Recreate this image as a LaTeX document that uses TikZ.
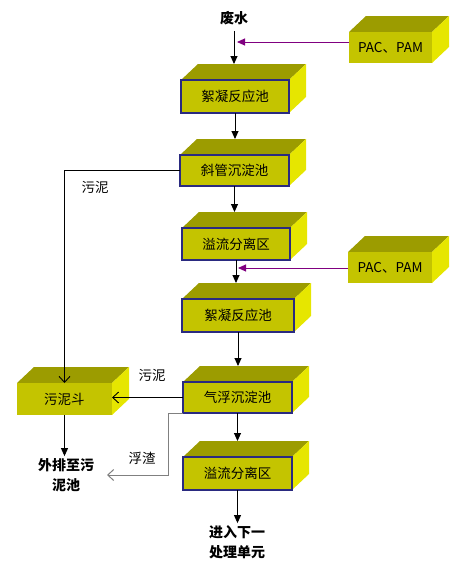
\documentclass[tikz,border=0pt]{standalone}
\usepackage{fontspec}
\setmainfont{Noto Sans CJK SC}
\usetikzlibrary{calc,arrows.meta,backgrounds}
\definecolor{frontc}{HTML}{C4C400}
\definecolor{topc}{HTML}{9C9C00}
\definecolor{sidec}{HTML}{E6E600}
\definecolor{bordc}{HTML}{2A2A80}
\definecolor{purp}{HTML}{800080}
\definecolor{grayl}{HTML}{808080}
\tikzset{
  front/.style={fill=frontc,inner sep=0pt,outer sep=0pt,font=\fontsize{13.5}{15}\selectfont},
  bordered/.style={draw=bordc,line width=1.4pt},
  topface/.style={fill=topc},
  sideface/.style={fill=sidec},
  arr/.style={draw=black,line width=0.9pt,-{Triangle[length=8pt,width=7pt]}},
  oarr/.style={draw=black,line width=0.9pt,-{Straight Barb[length=6pt,width=11pt]}},
  parr/.style={draw=purp,line width=0.9pt,-{Triangle[length=8pt,width=7pt]}},
  garr/.style={draw=grayl,line width=1pt,-{Straight Barb[length=6pt,width=11pt]}},
  lbl/.style={font=\fontsize{13.5}{15}\selectfont,inner sep=1pt},
  blbl/.style={font=\fontsize{14}{20}\selectfont\bfseries,align=center,inner sep=2pt},
}
\newcommand\cubebox[7]{%
  \node[front,#6,minimum width=#4pt,minimum height=#5pt] (#1) at (#2,#3) {#7};
  \begin{pgfonlayer}{background}
  \fill[topface] (#1.north west) -- ++(17,-16) -- ($(#1.north east)+(17,-16)$) -- (#1.north east) -- cycle;
  \fill[sideface] (#1.north east) -- ++(17,-16) -- ($(#1.south east)+(17,-16)$) -- (#1.south east) -- cycle;
  \end{pgfonlayer}
  \coordinate (#1-t) at ($(#1.north)+(0,-16)$);
}
\begin{document}
\begin{tikzpicture}[x=1pt,y=-1pt]
\useasboundingbox (0,0) rectangle (465,566);
% boxes
\cubebox{b1}{235}{96.5}{108}{33}{bordered}{絮凝反应池}
\cubebox{b2}{234.5}{170.5}{109}{31}{bordered}{斜管沉淀池}
\cubebox{b3}{236}{244}{108}{32}{bordered}{溢流分离区}
\cubebox{b4}{238}{315.5}{112}{33}{bordered}{絮凝反应池}
\cubebox{b5}{237.5}{397.5}{109}{31}{bordered}{气浮沉淀池}
\cubebox{b6}{237.5}{473.5}{109}{33}{bordered}{溢流分离区}
\cubebox{h}{64.5}{399}{95}{32}{}{污泥斗}
\cubebox{p1}{390.5}{47.5}{83}{31}{}{PAC、PAM}
\cubebox{p2}{390}{267.5}{84}{31}{}{PAC、PAM}
% texts
\node[blbl] (w) at (234,18) {废水};
\node[blbl] (out1) at (66,475) {外排至污\\泥池};
\node[blbl] (out2) at (237,542) {进入下一\\处理单元};
\node[lbl] (l1) at (95,187) {污泥};
\node[lbl] (l2) at (152,375) {污泥};
\node[lbl] (l3) at (142,458) {浮渣};
% main flow
\coordinate (j1) at (237,42);
\coordinate (j2) at (238,268);
\draw[arr,shorten <=4pt] (w.south) -- (w.south |- b1-t);
\draw[parr] (p1.west |- j1) -- (j1);
\draw[arr] (b1.south) -- (b1.south |- b2-t);
\draw[arr] (b2.south) -- (b2.south |- b3-t);
\draw[arr] (b3.south) -- (b3.south |- b4-t);
\draw[parr] (p2.west |- j2) -- (j2);
\draw[arr] (b4.south) -- (b4.south |- b5-t);
\draw[arr] (b5.south) -- (b5.south |- b6-t);
\draw[arr] (b6.south) -- (b6.south |- out2.north);
% sludge
\draw[oarr] (b2.west) -- (b2.west -| h.north) -- (h.north);
\draw[oarr] (b5.west) -- (b5.west -| h.east);
\draw[arr] (h.south) -- (h.south |- out1.north);
\coordinate (fz) at (107,475);
\draw[garr] (b5.south west) -- ++(-15,0) |- (fz);
\end{tikzpicture}
\end{document}
